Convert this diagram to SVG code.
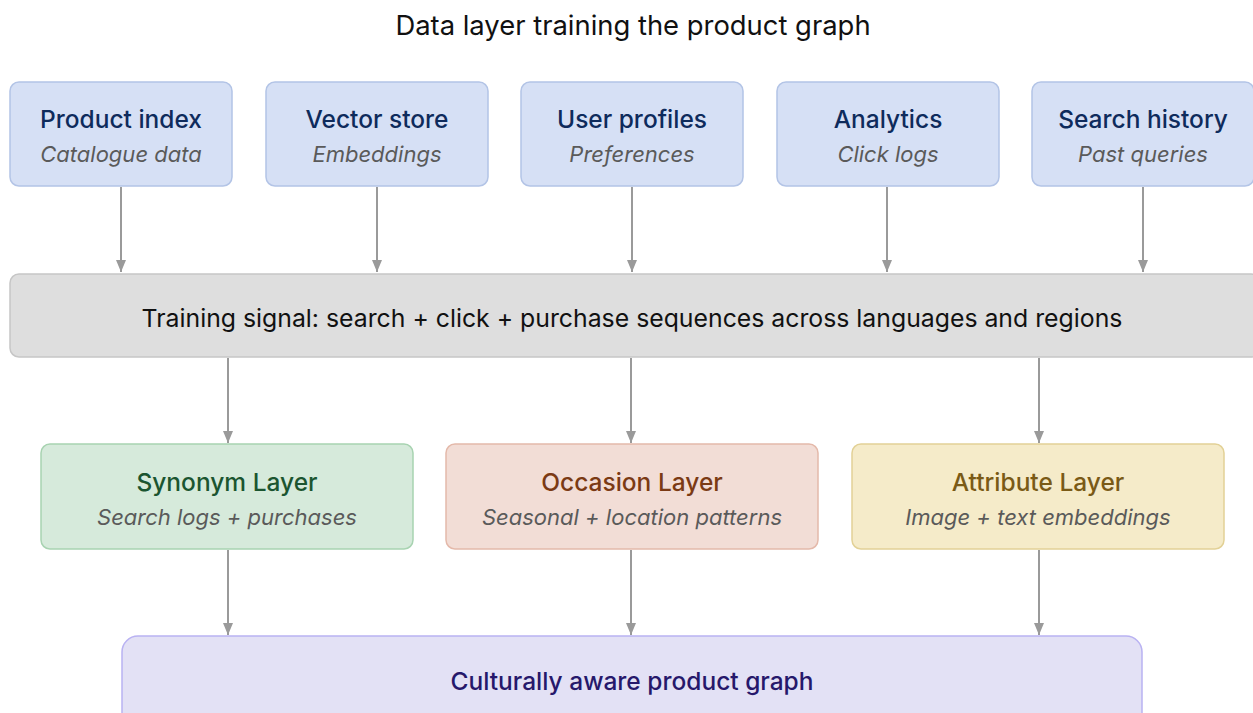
<svg xmlns="http://www.w3.org/2000/svg" width="1253" height="713" viewBox="0 0 1253 713">
  <style>
    text { font-family: Inter, "Liberation Sans", sans-serif; text-anchor: middle; dominant-baseline: central; }
    .title { font-size: 27.4px; fill: #111; }
    .head { font-size: 24.5px; font-weight: 500; }
    .sub { font-size: 22px; font-style: italic; fill: #5a5a5a; }
    .src rect { fill: #d6e0f5; stroke: #b3c4e6; stroke-width: 1.5; }
    .src .head { fill: #0e2b5c; }
    .edge { stroke: #9a9a9a; stroke-width: 2; fill: none; marker-end: url(#arrow); }
  </style>
  <defs>
    <marker id="arrow" viewBox="0 0 12 10" refX="12" refY="5" markerWidth="12" markerHeight="10" orient="auto" markerUnits="userSpaceOnUse">
      <path d="M0,0 L12,5 L0,10 z" fill="#9a9a9a"/>
    </marker>
  </defs>
  <rect width="1253" height="713" fill="#ffffff"/>

  <text class="title" x="633" y="25">Data layer training the product graph</text>

  <!-- data sources -->
  <g id="product-index" class="src">
    <rect x="10" y="82" width="222" height="104" rx="9"/>
    <text class="head" x="121" y="119">Product index</text>
    <text class="sub" x="121" y="154">Catalogue data</text>
  </g>
  <g id="vector-store" class="src">
    <rect x="266" y="82" width="222" height="104" rx="9"/>
    <text class="head" x="377" y="119">Vector store</text>
    <text class="sub" x="377" y="154">Embeddings</text>
  </g>
  <g id="user-profiles" class="src">
    <rect x="521" y="82" width="222" height="104" rx="9"/>
    <text class="head" x="632" y="119">User profiles</text>
    <text class="sub" x="632" y="154">Preferences</text>
  </g>
  <g id="analytics" class="src">
    <rect x="777" y="82" width="222" height="104" rx="9"/>
    <text class="head" x="888" y="119">Analytics</text>
    <text class="sub" x="888" y="154">Click logs</text>
  </g>
  <g id="search-history" class="src">
    <rect x="1032" y="82" width="222" height="104" rx="9"/>
    <text class="head" x="1143" y="119">Search history</text>
    <text class="sub" x="1143" y="154">Past queries</text>
  </g>

  <!-- training signal -->
  <g id="training-signal">
    <rect x="10" y="274" width="1250" height="83" rx="9" fill="#dedede" stroke="#c6c6c6" stroke-width="1.5"/>
    <text x="632" y="318" font-size="24.8" fill="#111">Training signal: search + click + purchase sequences across languages and regions</text>
  </g>

  <!-- layers -->
  <g id="synonym-layer">
    <rect x="41" y="444" width="372" height="105" rx="9" fill="#d6eadb" stroke="#a8d3b1" stroke-width="1.5"/>
    <text class="head" x="227" y="482" fill="#1b5530">Synonym Layer</text>
    <text class="sub" x="227" y="517">Search logs + purchases</text>
  </g>
  <g id="occasion-layer">
    <rect x="446" y="444" width="372" height="105" rx="9" fill="#f2ddd6" stroke="#e4b9aa" stroke-width="1.5"/>
    <text class="head" x="632" y="482" fill="#7b3a14">Occasion Layer</text>
    <text class="sub" x="632" y="517">Seasonal + location patterns</text>
  </g>
  <g id="attribute-layer">
    <rect x="852" y="444" width="372" height="105" rx="9" fill="#f5ebc9" stroke="#e2d196" stroke-width="1.5"/>
    <text class="head" x="1038" y="482" fill="#7a5a16">Attribute Layer</text>
    <text class="sub" x="1038" y="517">Image + text embeddings</text>
  </g>

  <!-- output graph -->
  <g id="product-graph">
    <rect x="122" y="636" width="1020" height="100" rx="16" fill="#e3e1f5" stroke="#b9b2f2" stroke-width="1.5"/>
    <text class="head" x="632" y="681" fill="#26186b">Culturally aware product graph</text>
  </g>

  <!-- connectors -->
  <g id="connectors">
    <line class="edge" x1="121" y1="187" x2="121" y2="272"/>
    <line class="edge" x1="377" y1="187" x2="377" y2="272"/>
    <line class="edge" x1="632" y1="187" x2="632" y2="272"/>
    <line class="edge" x1="887" y1="187" x2="887" y2="272"/>
    <line class="edge" x1="1143" y1="187" x2="1143" y2="272"/>
    <line class="edge" x1="228" y1="358" x2="228" y2="443"/>
    <line class="edge" x1="631" y1="358" x2="631" y2="443"/>
    <line class="edge" x1="1039" y1="358" x2="1039" y2="443"/>
    <line class="edge" x1="228" y1="550" x2="228" y2="635"/>
    <line class="edge" x1="631" y1="550" x2="631" y2="635"/>
    <line class="edge" x1="1039" y1="550" x2="1039" y2="635"/>
  </g>
</svg>
